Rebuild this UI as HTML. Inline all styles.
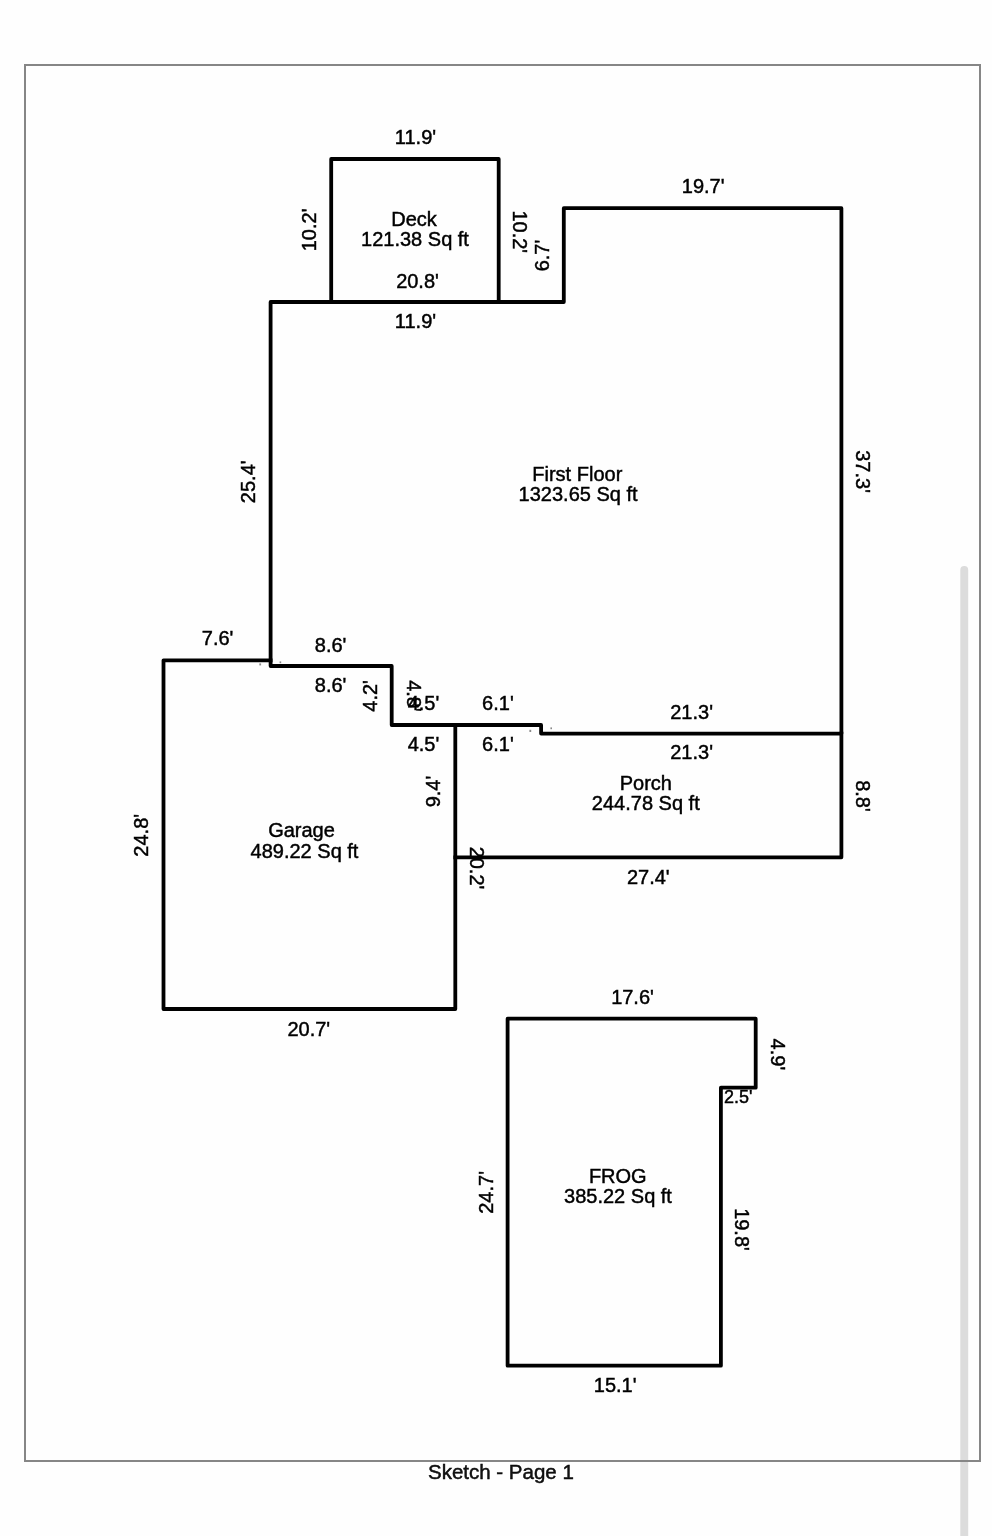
<!DOCTYPE html>
<html><head><meta charset="utf-8"><style>
html,body{margin:0;padding:0;background:#fff;width:992px;height:1536px;overflow:hidden}
svg{position:absolute;left:0;top:0;filter:blur(0.45px)}
.t text{stroke:#000;stroke-width:0.45px}
text{font-family:"Liberation Sans",sans-serif}
</style></head><body>
<svg width="992" height="1536" viewBox="0 0 992 1536">
<rect x="0" y="0" width="992" height="1536" fill="#fefefe"/>
<!-- scrollbar -->
<rect x="960.3" y="566" width="7.9" height="980" rx="3.9" fill="#dcdcdc"/>
<!-- frame -->
<rect x="25" y="65" width="955" height="1396" fill="none" stroke="#868686" stroke-width="2"/>
<g fill="none" stroke="#000" stroke-width="3.8" stroke-linejoin="round" stroke-linecap="square">
<!-- deck -->
<polyline points="331.2,302 331.2,159 498.7,159 498.7,302"/>
<!-- first floor -->
<polygon points="270.6,302 563.8,302 563.8,208.2 841.4,208.2 841.4,733.6 541.1,733.6 541.1,725 391.7,725 391.7,666 270.6,666"/>
<!-- garage -->
<polyline points="270.6,660.3 163.5,660.3 163.5,1009 455.3,1009 455.3,725"/>
<!-- porch -->
<polyline points="841.4,733.6 841.4,857.3 455.3,857.3"/>
<!-- frog -->
<polygon points="507.6,1018.7 755.7,1018.7 755.7,1087.7 720.9,1087.7 720.9,1365.7 507.6,1365.7"/>
</g>
<g class="t" font-size="20" fill="#000" text-anchor="middle">
<text x="415.5" y="143.8">11.9'</text>
<text x="414" y="226">Deck</text>
<text x="415" y="246">121.38 Sq ft</text>
<text x="417.5" y="288.3">20.8'</text>
<text x="415.5" y="328">11.9'</text>
<text x="703.2" y="193">19.7'</text>
<text x="577.3" y="480.5">First Floor</text>
<text x="578.1" y="500.6">1323.65 Sq ft</text>
<text x="217.6" y="645">7.6'</text>
<text x="330.6" y="651.5">8.6'</text>
<text x="330.6" y="692">8.6'</text>
<text x="423.5" y="710">4.5'</text>
<text x="497.9" y="710">6.1'</text>
<text x="423.5" y="750.5">4.5'</text>
<text x="497.9" y="750.5">6.1'</text>
<text x="691.6" y="719">21.3'</text>
<text x="691.6" y="759">21.3'</text>
<text x="645.8" y="789.5">Porch</text>
<text x="645.8" y="809.7">244.78 Sq ft</text>
<text x="301.5" y="837">Garage</text>
<text x="304.5" y="858">489.22 Sq ft</text>
<text x="648.3" y="884">27.4'</text>
<text x="308.8" y="1036">20.7'</text>
<text x="632.5" y="1004">17.6'</text>
<text x="738.3" y="1102.5" font-size="18">2.5'</text>
<text x="617.8" y="1183.2">FROG</text>
<text x="618" y="1203.2">385.22 Sq ft</text>
<text x="615.2" y="1392.2">15.1'</text>
<text x="500.9" y="1478.9" font-size="20.5" fill="#111">Sketch - Page 1</text>
<!-- rotated -90 (reads bottom to top): translate(baselineX, cy) -->
<text transform="translate(316.2,229.9) rotate(-90)">10.2'</text>
<text transform="translate(549,255.5) rotate(-90)">6.7'</text>
<text transform="translate(254.8,481.8) rotate(-90)">25.4'</text>
<text transform="translate(377,695.9) rotate(-90)">4.2'</text>
<text transform="translate(148,835.3) rotate(-90)">24.8'</text>
<text transform="translate(440,791.5) rotate(-90)">9.4'</text>
<text transform="translate(492.5,1192.4) rotate(-90)">24.7'</text>
<!-- rotated 90 (reads top to bottom) -->
<text transform="translate(513.3,231.8) rotate(90)">10.2'</text>
<text transform="translate(855.5,471.6) rotate(90)">37.3'</text>
<text transform="translate(406.5,696) rotate(90)">4.8'</text>
<text transform="translate(856.2,796) rotate(90)">8.8'</text>
<text transform="translate(469.5,868) rotate(90)">20.2'</text>
<text transform="translate(771,1054.4) rotate(90)">4.9'</text>
<text transform="translate(735.2,1229.5) rotate(90)">19.8'</text>
</g>
<!-- tiny tick marks -->
<g fill="#8a8a8a">
<rect x="259.3" y="663.4" width="1.8" height="2" />
<rect x="279.6" y="661.4" width="1.6" height="1.8" />
<rect x="529.4" y="729.8" width="1.8" height="2.2" />
<rect x="550.4" y="727.4" width="1.6" height="1.8" />
</g>
</svg>
</body></html>
